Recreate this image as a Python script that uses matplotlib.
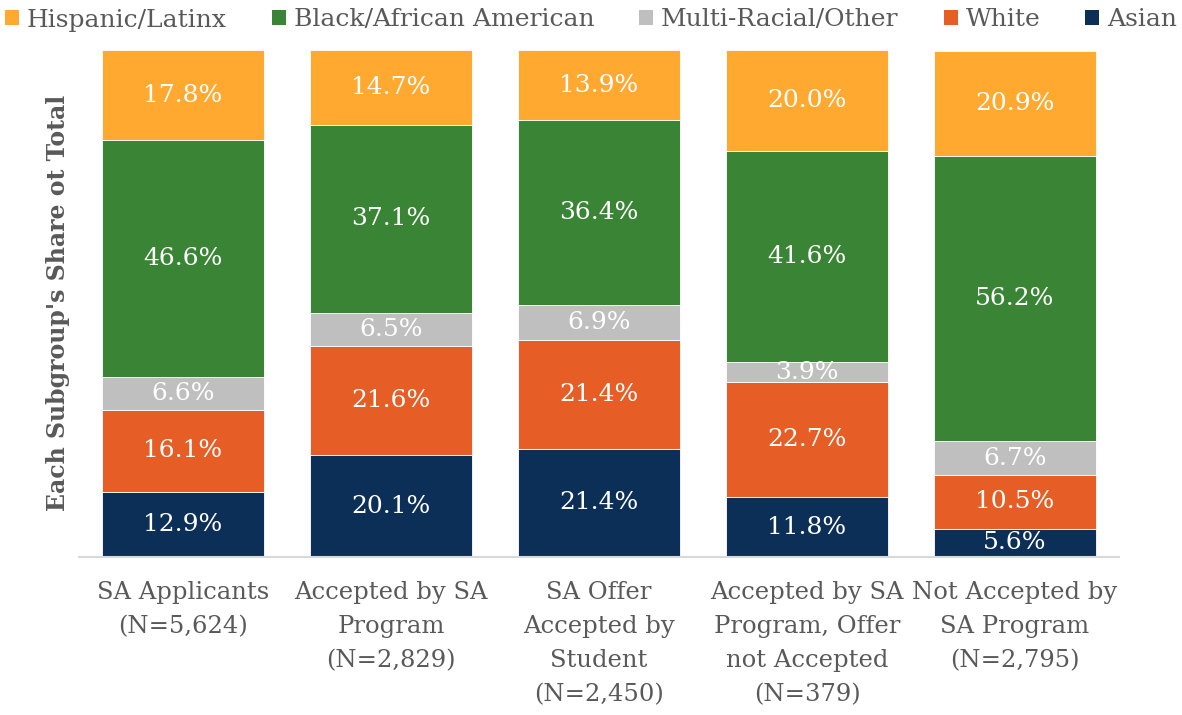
import matplotlib.pyplot as plt
import numpy as np
from matplotlib.patches import Patch

categories = ["SA Applicants\n(N=5,624)",
              "Accepted by SA\nProgram\n(N=2,829)",
              "SA Offer\nAccepted by\nStudent\n(N=2,450)",
              "Accepted by SA\nProgram, Offer\nnot Accepted\n(N=379)",
              "Not Accepted by\nSA Program\n(N=2,795)"]

# stacked bottom -> top
groups = ["Asian", "White", "Multi-Racial/Other", "Black/African American", "Hispanic/Latinx"]
asian = [12.9, 20.1, 21.4, 11.8, 5.6]
white = [16.1, 21.6, 21.4, 22.7, 10.5]
multi = [6.6, 6.5, 6.9, 3.9, 6.7]
black = [46.6, 37.1, 36.4, 41.6, 56.2]
hispanic = [17.8, 14.7, 13.9, 20.0, 20.9]
series = [asian, white, multi, black, hispanic]
colors = ["#0C2F58", "#E65E26", "#BFBFBF", "#3A8535", "#FFA931"]

txt = "#595959"
plt.rcParams['font.family'] = ['DejaVu Serif']

W, H = 1182, 715
fig = plt.figure(figsize=(W/100, H/100), dpi=100)
ax = fig.add_axes([79/W, 1-557/H, (1119-79)/W, (557-50)/H])

x = np.arange(len(categories))
bottom = np.zeros(len(categories))
for vals, col in zip(series, colors):
	vals = np.array(vals)
	ax.bar(x, vals, 0.78, bottom=bottom, color=col, edgecolor="white", linewidth=0.6)
	for xi, b, v in zip(x, bottom, vals):
		ax.text(xi, b + v/2, "%.1f%%" % v, ha="center", va="center", color="white", fontsize=18)
	bottom += vals

ax.set_xlim(-0.5, len(categories)-0.5)
ax.set_ylim(0, 100)
ax.set_yticks([])
ax.set_xticks(x)
ax.set_xticklabels(categories, fontsize=17.5, color=txt, linespacing=1.62, va="top")
ax.tick_params(axis="x", length=0, pad=17)
for s in ["left", "right", "top"]:
	ax.spines[s].set_visible(False)
ax.spines["bottom"].set_color("#D9D9D9")
ax.spines["bottom"].set_linewidth(1.5)

fig.text(58/W, 1-303/H, "Each Subgroup's Share ot Total", rotation=90, ha="center", va="center",
         fontsize=17, fontweight="bold", color=txt)

order = [4, 3, 2, 1, 0]
handles = [Patch(facecolor=colors[i], edgecolor="none") for i in order]
fig.legend(handles, [groups[i] for i in order], loc="center", bbox_to_anchor=(591/W, 1-20/H),
           ncol=5, frameon=False, fontsize=18, labelcolor=txt, borderaxespad=0, borderpad=0,
           handlelength=0.56, handleheight=0.56, handletextpad=0.32, columnspacing=1.8)

fig.savefig("out.png", dpi=100)
